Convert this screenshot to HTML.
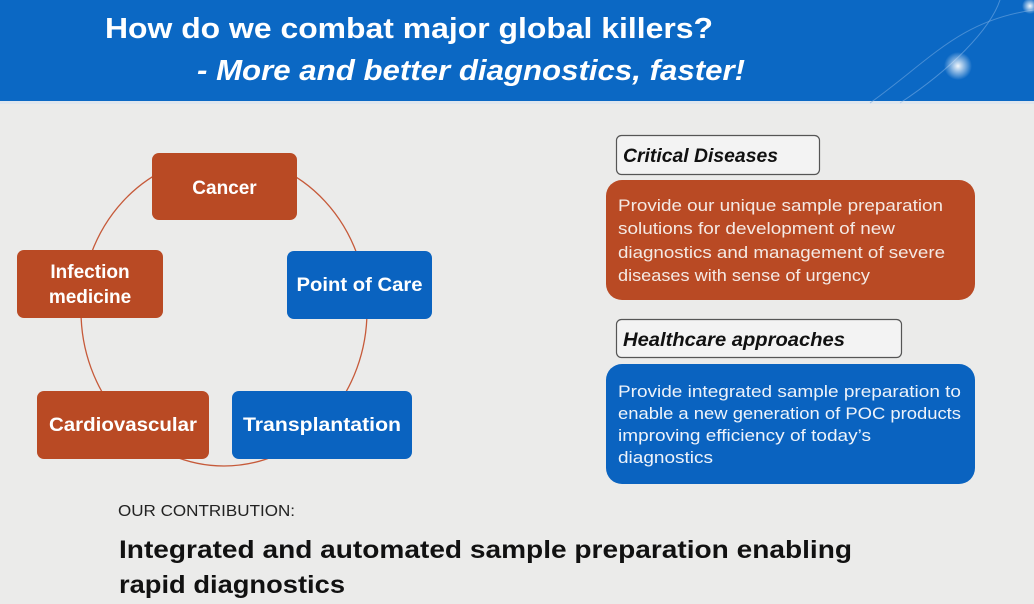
<!DOCTYPE html>
<html><head><meta charset="utf-8"><style>
html,body{margin:0;padding:0;background:#ebebea;}
svg{display:block;font-family:"Liberation Sans",sans-serif;}
</style></head><body>
<svg width="1034" height="604" viewBox="0 0 1034 604" xmlns="http://www.w3.org/2000/svg">
<defs>
<radialGradient id="g1" cx="0.5" cy="0.5" r="0.5"><stop offset="0" stop-color="#fff" stop-opacity="0.95"/><stop offset="1" stop-color="#fff" stop-opacity="0"/></radialGradient>
</defs>
<rect x="0" y="0" width="1034" height="604" fill="#ebebea"/>
<rect x="0" y="0" width="1034" height="103" fill="#0b68c4"/>
<rect x="0" y="101" width="1034" height="3" fill="#dfe6ee"/>
<path d="M870 103 C930 60 960 20 1034 10" stroke="#6fa6e0" stroke-width="1" fill="none" opacity="0.6"/>
<path d="M900 103 C950 70 990 30 1000 0" stroke="#8ab8ea" stroke-width="1" fill="none" opacity="0.5"/>
<circle cx="958" cy="66" r="14" fill="url(#g1)"/>
<circle cx="1030" cy="6" r="8" fill="url(#g1)"/>
<text x="105" y="38" font-size="29" font-weight="bold" fill="#fff" textLength="608" lengthAdjust="spacingAndGlyphs">How do we combat major global killers?</text>
<text x="197" y="80" font-size="29" font-weight="bold" font-style="italic" fill="#fff" textLength="548" lengthAdjust="spacingAndGlyphs">- More and better diagnostics, faster!</text>

<ellipse cx="224" cy="311" rx="143" ry="155" fill="none" stroke="#c65a3a" stroke-width="1.3"/>

<rect x="152" y="153" width="145" height="67" rx="7" fill="#b94a24"/>
<text x="224.5" y="194" font-size="19" font-weight="bold" fill="#fff" text-anchor="middle">Cancer</text>
<rect x="17" y="250" width="146" height="68" rx="7" fill="#b94a24"/>
<text x="90" y="278" font-size="19" font-weight="bold" fill="#fff" text-anchor="middle">Infection</text>
<text x="90" y="303" font-size="19" font-weight="bold" fill="#fff" text-anchor="middle">medicine</text>
<rect x="287" y="251" width="145" height="68" rx="7" fill="#0a63c0"/>
<text x="359.5" y="291" font-size="19" font-weight="bold" fill="#fff" text-anchor="middle" textLength="126" lengthAdjust="spacingAndGlyphs">Point of Care</text>
<rect x="37" y="391" width="172" height="68" rx="7" fill="#b94a24"/>
<text x="123" y="431" font-size="19" font-weight="bold" fill="#fff" text-anchor="middle" textLength="148" lengthAdjust="spacingAndGlyphs">Cardiovascular</text>
<rect x="232" y="391" width="180" height="68" rx="7" fill="#0a63c0"/>
<text x="322" y="431" font-size="19" font-weight="bold" fill="#fff" text-anchor="middle" textLength="158" lengthAdjust="spacingAndGlyphs">Transplantation</text>

<rect x="616.5" y="135.5" width="203" height="39" rx="5" fill="#f3f3f3" stroke="#555" stroke-width="1.2"/>
<text x="623" y="162" font-size="19" font-weight="bold" font-style="italic" fill="#111" textLength="155" lengthAdjust="spacingAndGlyphs">Critical Diseases</text>
<rect x="606" y="180" width="369" height="120" rx="16" fill="#b94a24"/>
<g font-size="17" fill="#f4e9e4">
<text x="618" y="211" textLength="325" lengthAdjust="spacingAndGlyphs">Provide our unique sample preparation</text>
<text x="618" y="234" textLength="277" lengthAdjust="spacingAndGlyphs">solutions for development of new</text>
<text x="618" y="258" textLength="327" lengthAdjust="spacingAndGlyphs">diagnostics and management of  severe</text>
<text x="618" y="281" textLength="252" lengthAdjust="spacingAndGlyphs">diseases with sense of urgency</text>
</g>
<rect x="616.5" y="319.5" width="285" height="38" rx="5" fill="#f3f3f3" stroke="#555" stroke-width="1.2"/>
<text x="623" y="346" font-size="19" font-weight="bold" font-style="italic" fill="#111" textLength="222" lengthAdjust="spacingAndGlyphs">Healthcare approaches</text>
<rect x="606" y="364" width="369" height="120" rx="16" fill="#0a63c0"/>
<g font-size="17" fill="#eef3fa">
<text x="618" y="397" textLength="343" lengthAdjust="spacingAndGlyphs">Provide integrated sample preparation to</text>
<text x="618" y="419" textLength="343" lengthAdjust="spacingAndGlyphs">enable a new generation of POC products</text>
<text x="618" y="441" textLength="253" lengthAdjust="spacingAndGlyphs">improving efficiency of today’s</text>
<text x="618" y="463" textLength="95" lengthAdjust="spacingAndGlyphs">diagnostics</text>
</g>

<text x="118" y="516" font-size="16" fill="#222" textLength="177" lengthAdjust="spacingAndGlyphs">OUR CONTRIBUTION:</text>
<text x="119" y="558" font-size="25" font-weight="bold" fill="#111" textLength="733" lengthAdjust="spacingAndGlyphs">Integrated and automated sample preparation enabling</text>
<text x="119" y="593" font-size="25" font-weight="bold" fill="#111" textLength="226" lengthAdjust="spacingAndGlyphs">rapid diagnostics</text>
</svg>
</body></html>
